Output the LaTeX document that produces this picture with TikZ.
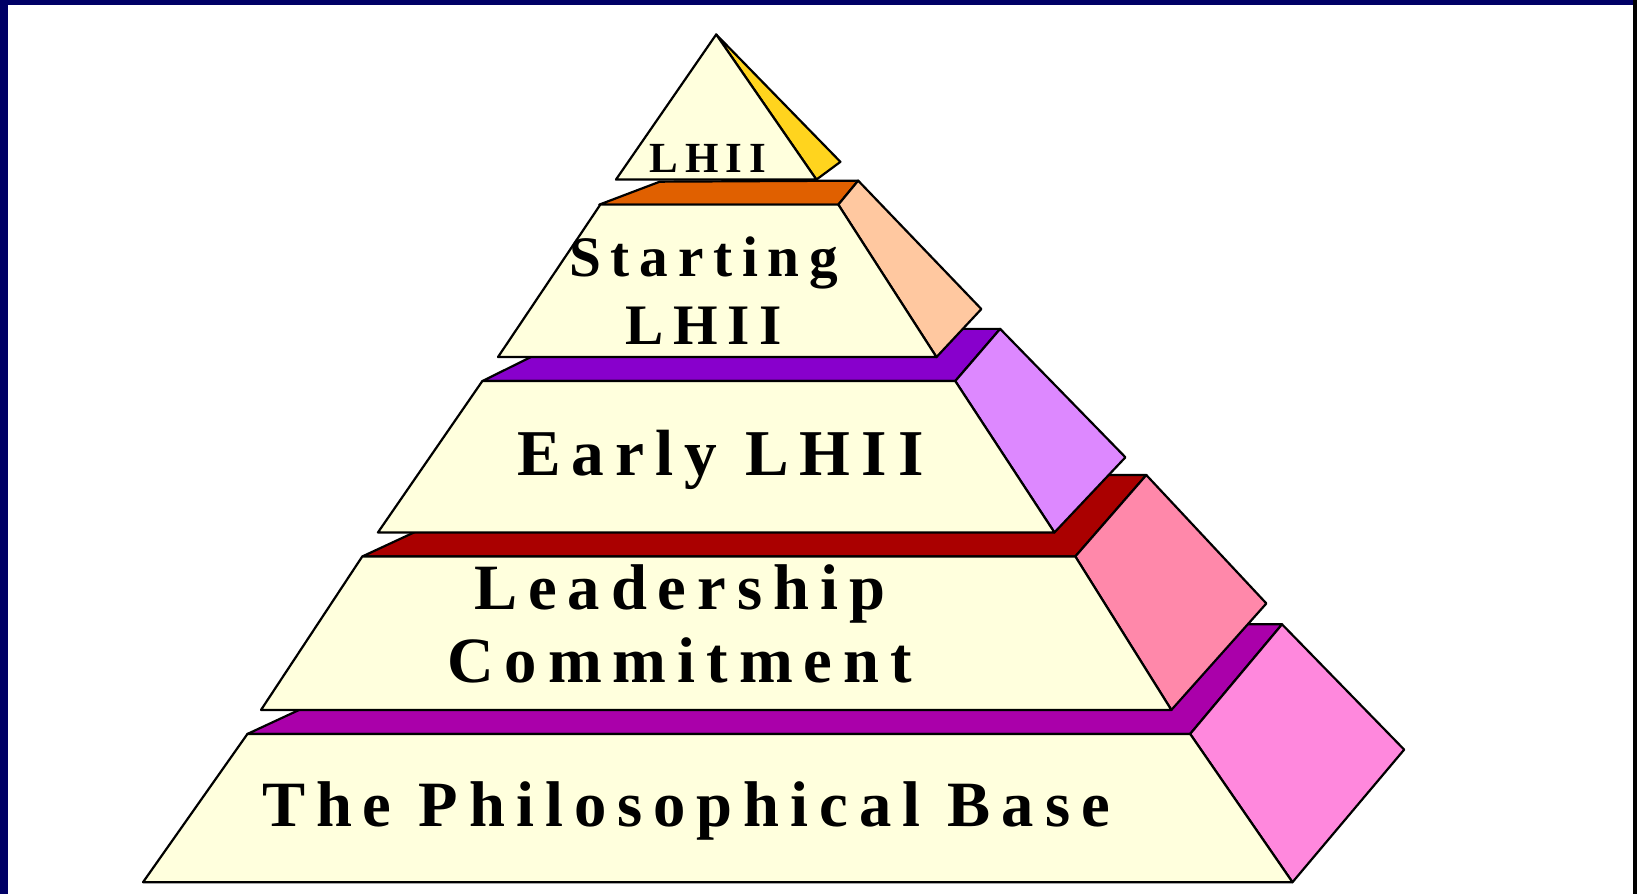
\documentclass[tikz,border=0pt]{standalone}
\usepackage{fontspec}
\setmainfont{Liberation Serif}
\newfontfamily\layerFont[LetterSpace=17]{Liberation Serif}

\definecolor{frameColor}{RGB}{0,0,102}
\definecolor{frontColor}{RGB}{255,255,221}
\definecolor{tipSide}{RGB}{255,212,30}
\definecolor{startTop}{RGB}{224,96,0}
\definecolor{startSide}{RGB}{255,200,160}
\definecolor{earlyTop}{RGB}{136,0,204}
\definecolor{earlySide}{RGB}{221,136,255}
\definecolor{leaderTop}{RGB}{170,0,0}
\definecolor{leaderSide}{RGB}{255,136,170}
\definecolor{baseTop}{RGB}{170,0,170}
\definecolor{baseSide}{RGB}{255,136,221}

\tikzstyle{pyramid} = [x = 0.01cm, y = -0.01cm]
\tikzstyle{faceStyle} = [draw=black, line width=0.6pt, line join=round]
\tikzset{layerText/.style 2 args = {font=\layerFont\bfseries\fontsize{#1}{#2}\selectfont, align=center, inner sep=0pt}}

\newcommand{\quadFace}[5]{\filldraw [faceStyle, fill=#1] (#2) -- (#3) -- (#4) -- (#5) -- cycle;}
\newcommand{\frontFace}[4]{\quadFace{frontColor}{#1}{#2}{#3}{#4}}
\newcommand{\triFace}[4]{\filldraw [faceStyle, fill=#1] (#2) -- (#3) -- (#4) -- cycle;}

\begin{document}
\begin{tikzpicture}[pyramid]
  % frame
  \useasboundingbox (0,0) rectangle (1568,856);
  \fill [white] (0,0) rectangle (1568,856);
  \fill [frameColor] (0,0) rectangle (1568,5);
  \fill [frameColor] (0,0) rectangle (8,856);
  \fill [black] (1564,0) rectangle (1568,856);

  % base layer
  \quadFace{baseTop}{237,703}{1140,703}{1228,598}{463,598}
  \quadFace{baseSide}{1140,703}{1228,598}{1345,718}{1238,845}
  \frontFace{237,703}{1140,703}{1238,845}{137,845}

  % leadership layer
  \quadFace{leaderTop}{347,533}{1030,533}{1098,455}{515,455}
  \quadFace{leaderSide}{1030,533}{1098,455}{1213,578}{1122,680}
  \frontFace{347,533}{1030,533}{1122,680}{250,680}

  % early layer
  \quadFace{earlyTop}{462,365}{915,365}{958,315}{563,315}
  \quadFace{earlySide}{915,365}{958,315}{1078,438}{1010,510}
  \frontFace{462,365}{915,365}{1010,510}{362,510}

  % starting layer
  \quadFace{startTop}{574,196}{803,196}{822,173}{632,174}
  \quadFace{startSide}{803,196}{822,173}{940,296}{897,342}
  \frontFace{575,196}{803,196}{897,342}{477,342}

  % tip
  \triFace{tipSide}{686,33}{805,155}{782,172}
  \triFace{frontColor}{686,33}{782,172}{590,172}

  % labels
  \node [layerText={11.7}{14}, anchor=base] (tipLabel) at (678,165) {LHII};
  \node [layerText={15.6}{18.5}] (startLabel) at (674,278) {Starting\\LHII};
  \node [layerText={17.8}{20}, anchor=base] (earlyLabel) at (690,455) {Early LHII};
  \node [layerText={17.6}{19.9}] (leaderLabel) at (651,598) {Leadership\\Commitment};
  \node [layerText={17.6}{20}, anchor=base] (baseLabel) at (657,792) {The Philosophical Base};
\end{tikzpicture}
\end{document}
